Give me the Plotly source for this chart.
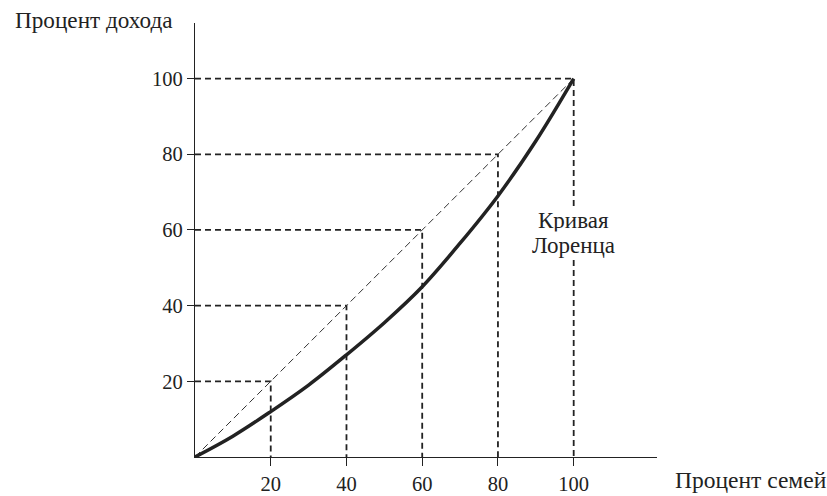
import plotly.graph_objects as go

# доля семей (%), доля дохода (%) — кривая Лоренца
families = [0, 10, 20, 30, 40, 50, 60, 70, 80, 90, 100]
income = [0, 5.5, 12, 19, 27, 35.5, 45, 56.5, 69, 83.5, 100]

ticks = [20, 40, 60, 80, 100]
tick_labels = ["20", "40", "60", "80", "100"]

FONT = "Liberation Serif, Times New Roman, serif"

# пунктирные направляющие: горизонталь от оси Y и вертикаль до оси X
gx, gy = [], []
for t in ticks:
    gx += [0, t, t, None]
    gy += [t, t, 0, None]

fig = go.Figure()

fig.add_trace(go.Scatter(
    x=gx, y=gy, mode="lines",
    line=dict(color="#222", width=1.8, dash="6px,4px"),
    hoverinfo="skip", showlegend=False,
))

# линия абсолютного равенства
fig.add_trace(go.Scatter(
    x=[0, 100], y=[0, 100], mode="lines",
    line=dict(color="#333", width=1, dash="7px,4px"),
    hoverinfo="skip", showlegend=False,
))

fig.add_trace(go.Scatter(
    x=families, y=income, mode="lines",
    line=dict(color="#222", width=3.5, shape="spline"),
    showlegend=False,
))

# подпись кривой — две строки на белом фоне (разрывает пунктир x=100)
for txt, yy in [("Кривая", 62.4), ("Лоренца", 55.8)]:
    fig.add_annotation(
        x=100, y=yy, text=txt, showarrow=False,
        font=dict(family=FONT, size=23, color="#222"),
        bgcolor="white", borderpad=1,
    )

fig.add_annotation(
    xref="paper", yref="paper", x=-0.394, y=1.007, xanchor="left", yanchor="middle",
    text="Процент дохода", showarrow=False,
    font=dict(family=FONT, size=23.2, color="#222"),
)
fig.add_annotation(
    xref="paper", yref="paper", x=1.035, y=-0.053, xanchor="left", yanchor="middle",
    text="Процент семей", showarrow=False,
    font=dict(family=FONT, size=23.5, color="#222"),
)

fig.update_xaxes(
    range=[0, 122], tickvals=ticks, ticktext=tick_labels,
    showline=True, linecolor="#222", linewidth=1.2,
    ticks="outside", ticklen=8, tickcolor="#222",
    showgrid=False, zeroline=False,
    tickfont=dict(family=FONT, size=20.5, color="#222"),
)
fig.update_yaxes(
    range=[0, 114.7], tickvals=ticks, ticktext=tick_labels,
    showline=True, linecolor="#222", linewidth=1.2,
    ticks="outside", ticklen=7, tickcolor="#222",
    showgrid=False, zeroline=False,
    tickfont=dict(family=FONT, size=20.5, color="#222"),
)

fig.update_layout(
    width=827, height=507,
    margin=dict(l=195, r=170, t=23, b=46),
    plot_bgcolor="white", paper_bgcolor="white",
)

# убрать отступ body, чтобы график занял окно целиком
fig.write_html(
    "out.html",
    config={"displayModeBar": False},
    post_script="document.body.style.margin='0';document.body.style.overflow='hidden';",
)
